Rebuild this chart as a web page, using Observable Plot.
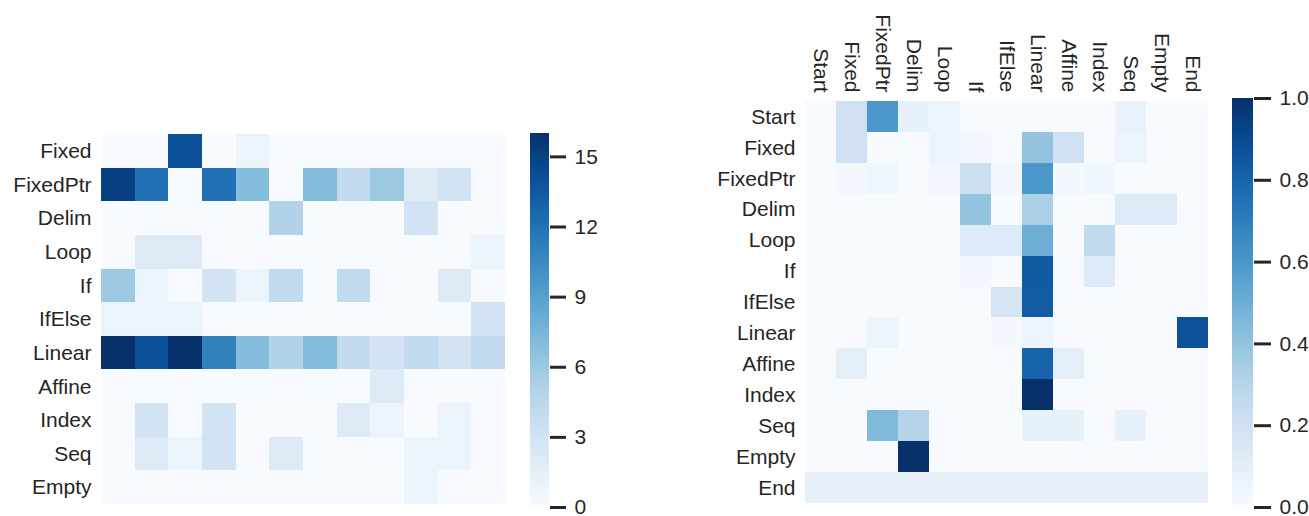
<!DOCTYPE html>
<html><head><meta charset="utf-8">
<script src="https://cdn.jsdelivr.net/npm/d3@7"></script>
<script src="https://cdn.jsdelivr.net/npm/@observablehq/plot@0.6"></script>
<style>
body{margin:0;background:#fff;}
#wrap{position:relative;width:1309px;height:516px;overflow:hidden;background:#fff;}
#wrap > svg, #wrap > figure{position:absolute;top:0;margin:0;}
</style></head><body><div id="wrap"></div>
<script>
// ---- Left heatmap (counts) ----
const leftRows = ["Fixed","FixedPtr","Delim","Loop","If","IfElse","Linear","Affine","Index","Seq","Empty"];
const leftCols = ["c1","c2","c3","c4","c5","c6","c7","c8","c9","c10","c11","c12"];
const leftFixed    = [0, 0,14, 0, 1, 0, 0, 0, 0, 0, 0, 0];
const leftFixedPtr = [15,12, 0,12, 7, 0, 7, 4, 6, 2, 3, 0];
const leftDelim    = [0, 0, 0, 0, 0, 5, 0, 0, 0, 3, 0, 0];
const leftLoop     = [0, 2, 2, 0, 0, 0, 0, 0, 0, 0, 0, 1];
const leftIf       = [6, 1, 0, 3, 1, 4, 0, 4, 0, 0, 2, 0];
const leftIfElse   = [1, 1, 1, 0, 0, 0, 0, 0, 0, 0, 0, 3];
const leftLinear   = [16,14,16,11, 7, 5, 7, 4, 3, 4, 3, 4];
const leftAffine   = [0, 0, 0, 0, 0, 0, 0, 0, 2, 0, 0, 0];
const leftIndex    = [0, 3, 0, 3, 0, 0, 0, 2, 1, 0, 1, 0];
const leftSeq      = [0, 2, 1, 3, 0, 2, 0, 0, 0, 1, 1, 0];
const leftEmpty    = [0, 0, 0, 0, 0, 0, 0, 0, 0, 1, 0, 0];
const leftValues = [leftFixed,leftFixedPtr,leftDelim,leftLoop,leftIf,leftIfElse,leftLinear,leftAffine,leftIndex,leftSeq,leftEmpty];
const leftMax = 16;
const leftTicks = [0,3,6,9,12,15];

// ---- Right heatmap (transition probabilities) ----
const rightLabels = ["Start","Fixed","FixedPtr","Delim","Loop","If","IfElse","Linear","Affine","Index","Seq","Empty","End"];
const rStart    = [0,0.20,0.60,0.08,0.06,0,0,0,0,0,0.07,0,0];
const rFixed    = [0,0.20,0,0,0.06,0.03,0,0.40,0.20,0,0.06,0,0];
const rFixedPtr = [0,0.02,0.04,0,0.02,0.22,0.03,0.60,0.02,0.04,0,0,0];
const rDelim    = [0,0,0,0,0,0.40,0,0.33,0,0,0.13,0.13,0];
const rLoop     = [0,0,0,0,0,0.13,0.13,0.50,0,0.25,0,0,0];
const rIf       = [0,0,0,0,0,0.03,0,0.84,0,0.13,0,0,0];
const rIfElse   = [0,0,0,0,0,0,0.17,0.83,0,0,0,0,0];
const rLinear   = [0,0,0.05,0,0,0.01,0.02,0.05,0,0,0,0,0.87];
const rAffine   = [0,0.09,0,0,0,0,0,0.80,0.09,0,0,0,0];
const rIndex    = [0,0,0,0,0,0,0,1.0,0,0,0,0,0];
const rSeq      = [0,0,0.45,0.30,0,0,0,0.08,0.08,0,0.08,0,0];
const rEmpty    = [0,0,0,1.0,0,0,0,0,0,0,0,0,0];
const rEnd      = [0.077,0.077,0.077,0.077,0.077,0.077,0.077,0.077,0.077,0.077,0.077,0.077,0.077];
const rightValues = [rStart,rFixed,rFixedPtr,rDelim,rLoop,rIf,rIfElse,rLinear,rAffine,rIndex,rSeq,rEmpty,rEnd];
const rightMax = 1;
const rightTicks = [0,0.2,0.4,0.6,0.8,1.0];

const baseStyle = {fontFamily:"'Liberation Sans', Arial, Helvetica, sans-serif", fontSize:"21px", color:"#262626", background:"transparent"};

function tidy(rows, cols, values){
  const out = [];
  rows.forEach((r,i)=>cols.forEach((c,j)=>out.push({row:r, col:c, value:values[i][j]})));
  return out;
}

function heatmap({rows, cols, values, max, width, ml, mr, mt, mb, showX}){
  return Plot.plot({
    width, height:516, marginLeft:ml, marginRight:mr, marginTop:mt, marginBottom:mb,
    style: baseStyle,
    x: {domain: cols, padding:0, round:false, axis: showX ? "top" : null, label:null, tickSize:0, tickPadding:9, tickRotate:90},
    y: {domain: rows, padding:0, round:false, label:null, tickSize:0, tickPadding:10},
    color: {type:"linear", scheme:"blues", domain:[0,max]},
    marks: [
      Plot.cell(tidy(rows, cols, values), {x:"col", y:"row", fill:"value", inset:0, shapeRendering:"crispEdges"})
    ]
  });
}

function colorbar({max, ticks, fmt, width, ml, mr, mt, mb, tickSize}){
  const n = 256, step = max/n;
  const stops = d3.range(n).map(i=>i*step);
  return Plot.plot({
    width, height:516, marginLeft:ml, marginRight:mr, marginTop:mt, marginBottom:mb,
    style: baseStyle,
    y: {domain:[0,max]},
    color: {type:"linear", scheme:"blues", domain:[0,max]},
    marks: [
      Plot.rect(stops, {y1:d=>d, y2:d=>d+step, fill:d=>d+step/2, shapeRendering:"crispEdges"}),
      Plot.axisY({anchor:"right", ticks, tickFormat:fmt, tickSize, tickPadding:9, strokeWidth:3, label:null})
    ]
  });
}

const wrap = document.getElementById("wrap");
function place(el, left){ el.style.left = left+"px"; wrap.appendChild(el); }

place(heatmap({rows:leftRows, cols:leftCols, values:leftValues, max:leftMax, width:515, ml:101, mr:10, mt:134, mb:12, showX:false}), 0);
place(colorbar({max:leftMax, ticks:leftTicks, fmt:d3.format("d"), width:100, ml:10, mr:71, mt:133, mb:9, tickSize:16}), 520);
place(heatmap({rows:rightLabels, cols:rightLabels, values:rightValues, max:rightMax, width:600, ml:185, mr:12, mt:101, mb:13, showX:true}), 620);
place(colorbar({max:rightMax, ticks:rightTicks, fmt:d3.format(".1f"), width:87, ml:10, mr:56, mt:98, mb:9, tickSize:17}), 1222);
</script>
</body></html>
